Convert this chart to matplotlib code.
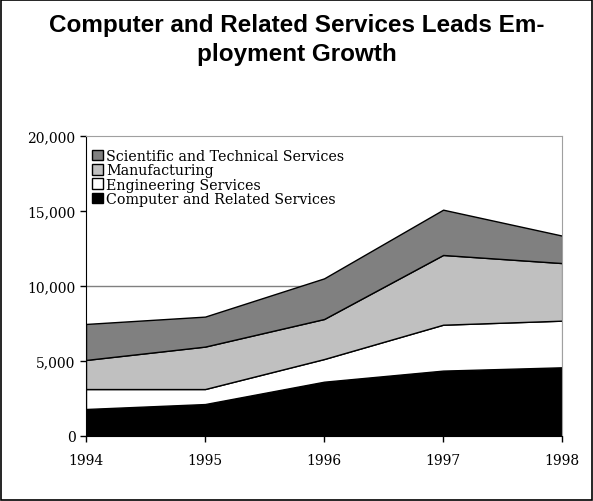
import numpy as np
import matplotlib.pyplot as plt
from matplotlib.patches import Rectangle

# --- data ---
years = [1994, 1995, 1996, 1997, 1998]
computer = [1800, 2130, 3620, 4360, 4580]
engineering = [1330, 1000, 1510, 3060, 3110]
manufacturing = [1940, 2830, 2670, 4650, 3840]
scientific = [2400, 2000, 2710, 3020, 1830]

labels = ['Computer and Related Services', 'Engineering Services',
          'Manufacturing', 'Scientific and Technical Services']
colors = ['#000000', '#ffffff', '#c0c0c0', '#808080']
yticks = [0, 5000, 10000, 15000, 20000]

fig = plt.figure(figsize=(5.93, 5.02), dpi=100)
ax = fig.add_axes([0.145, 0.1295, 0.803, 0.5975])

# stacked areas
series = [computer, engineering, manufacturing, scientific]
base = np.zeros(len(years))
handles = []
for vals, col, lab in zip(series, colors, labels):
    top = base + np.array(vals)
    h = ax.fill_between(years, base, top, facecolor=col, edgecolor='black',
                        linewidth=1, label=lab, zorder=2)
    handles.append(h)
    base = top

ax.set_xlim(1994, 1998)
ax.set_ylim(0, 20000)
ax.set_xticks(years)
ax.set_yticks(yticks)
ax.set_yticklabels([f'{v:,}' for v in yticks])
ax.axhline(10000, color='#808080', linewidth=1, zorder=1)

for s in ['top', 'right']:
    ax.spines[s].set_color('#a0a0a0')
ax.spines['left'].set_color('black')
ax.spines['bottom'].set_color('black')
ax.spines['bottom'].set_zorder(3)
ax.tick_params(direction='out', length=4, width=1, labelsize=10)
for t in ax.get_xticklabels() + ax.get_yticklabels():
    t.set_family('DejaVu Serif')
ax.tick_params(axis='x', pad=8)

leg = ax.legend(handles[::-1], labels[::-1], loc='upper left',
                bbox_to_anchor=(-0.005, 0.985), frameon=False,
                prop={'family': 'DejaVu Serif', 'size': 10.3},
                handlelength=0.75, handleheight=0.75, handletextpad=0.2,
                labelspacing=0.02, borderaxespad=0.2)

fig.text(0.5, 0.973, 'Computer and Related Services Leads Em-\nployment Growth',
         ha='center', va='top', fontsize=17.5, fontweight='bold',
         family='Liberation Sans', linespacing=1.35)

# outer border
fig.patches.append(Rectangle((0.002, 0.002), 0.996, 0.996, transform=fig.transFigure,
                             fill=False, edgecolor='black', linewidth=1.2))

fig.savefig('out.png', dpi=100)
